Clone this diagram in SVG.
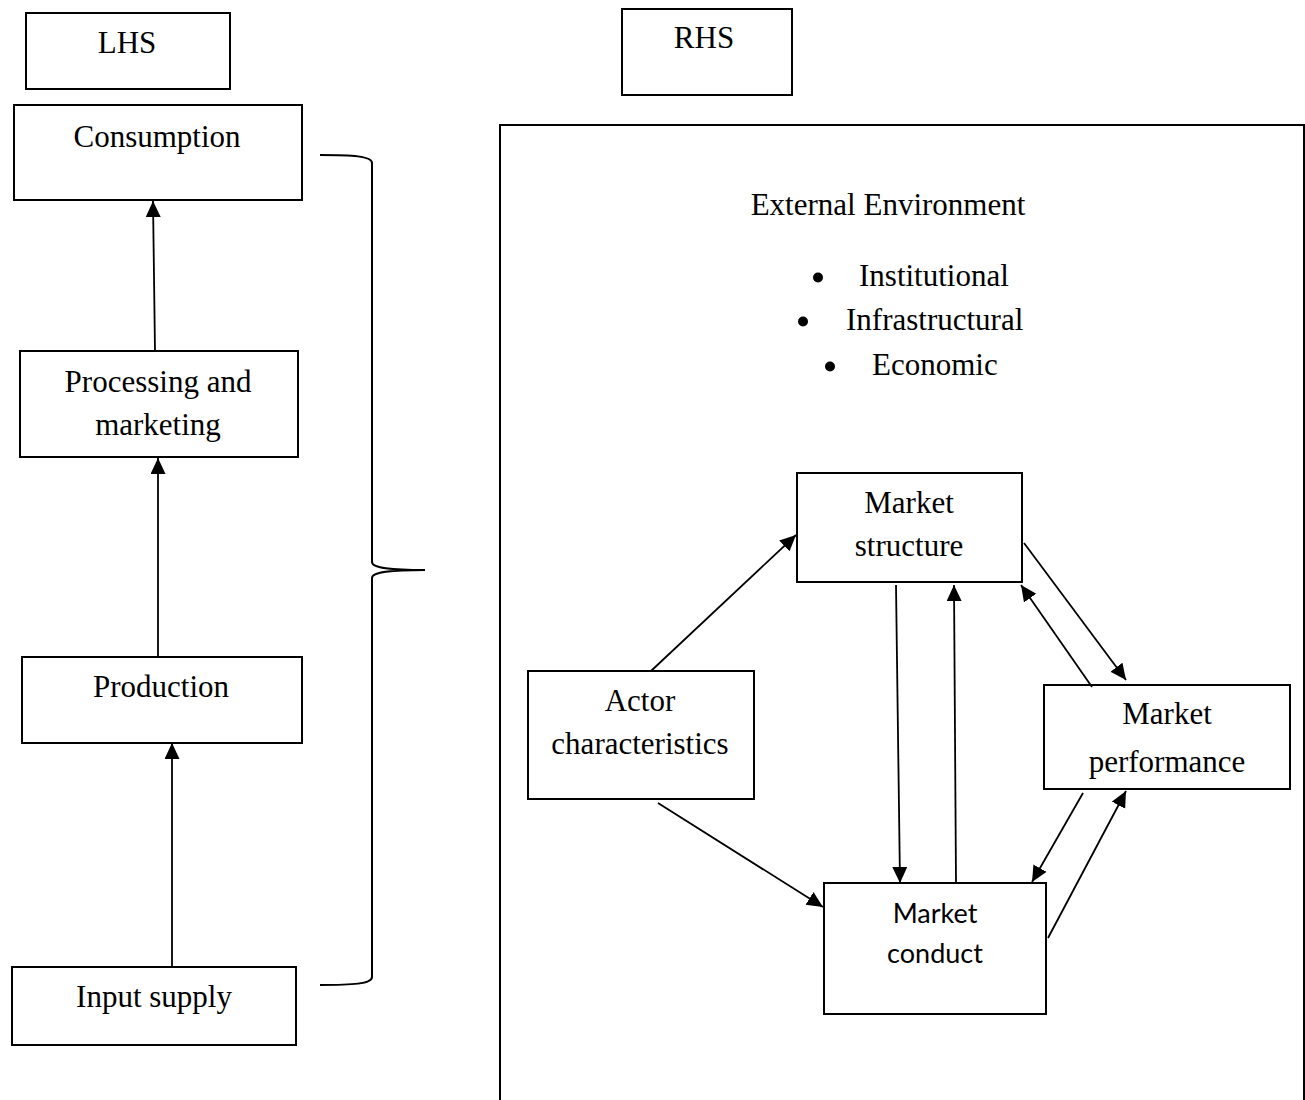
<svg xmlns="http://www.w3.org/2000/svg" width="1305" height="1100" viewBox="0 0 1305 1100">
  <defs>
    <marker id="arrow" markerUnits="userSpaceOnUse" markerWidth="18" markerHeight="16" refX="16" refY="7.5" orient="auto">
      <path d="M0,0 L16,7.5 L0,15 z" fill="#000"/>
    </marker>
    <style>
      .box { fill: #fff; stroke: #000; stroke-width: 2; }
      .frame { fill: none; stroke: #000; stroke-width: 2; }
      .t { font-family: "Liberation Serif", "Times New Roman", serif; font-size: 31px; fill: #000; text-anchor: middle; }
      .ts { font-family: Lato, "Open Sans", sans-serif; font-size: 27px; fill: #000; text-anchor: middle; }
      .tl { font-family: "Liberation Serif", "Times New Roman", serif; font-size: 31px; fill: #000; }
      .link { stroke: #000; stroke-width: 1.8; fill: none; marker-end: url(#arrow); }
      .brace { stroke: #000; stroke-width: 2; fill: none; }
    </style>
  </defs>
  <rect width="1305" height="1100" fill="#fff"/>

  <!-- Left-hand side: value chain stages -->
  <g id="lhs-label">
    <rect class="box" x="26" y="13" width="204" height="76"/>
    <text class="t" x="127" y="53">LHS</text>
  </g>
  <g id="consumption">
    <rect class="box" x="14" y="105" width="288" height="95"/>
    <text class="t" x="157" y="147">Consumption</text>
  </g>
  <g id="processing">
    <rect class="box" x="20" y="351" width="278" height="106"/>
    <text class="t" x="158" y="392">Processing and</text>
    <text class="t" x="158" y="435">marketing</text>
  </g>
  <g id="production">
    <rect class="box" x="22" y="657" width="280" height="86"/>
    <text class="t" x="161" y="697">Production</text>
  </g>
  <g id="input-supply">
    <rect class="box" x="12" y="967" width="284" height="78"/>
    <text class="t" x="154" y="1007">Input supply</text>
  </g>

  <!-- Curly brace grouping the chain -->
  <g id="brace">
    <path class="brace" d="M320,155 C352,155 372,156 372,163 L372,562 C372,568 390,570 425,570 C390,570 372,572 372,578 L372,977 C372,984 352,985 320,985"/>
  </g>

  <!-- Right-hand side: SCP framework -->
  <g id="rhs-label">
    <rect class="box" x="622" y="9" width="170" height="86"/>
    <text class="t" x="704" y="48">RHS</text>
  </g>
  <g id="external-environment">
    <rect class="frame" x="500" y="125" width="804" height="985"/>
    <text class="t" x="888" y="215">External Environment</text>
    <circle cx="818" cy="277.5" r="5"/>
    <text class="tl" x="859" y="286">Institutional</text>
    <circle cx="803" cy="321.5" r="5"/>
    <text class="tl" x="846" y="330">Infrastructural</text>
    <circle cx="830" cy="366.5" r="5"/>
    <text class="tl" x="872" y="375">Economic</text>
  </g>
  <g id="market-structure">
    <rect class="box" x="797" y="473" width="225" height="109"/>
    <text class="t" x="909" y="513">Market</text>
    <text class="t" x="909" y="556">structure</text>
  </g>
  <g id="actor-characteristics">
    <rect class="box" x="528" y="671" width="226" height="128"/>
    <text class="t" x="640" y="711">Actor</text>
    <text class="t" x="640" y="754">characteristics</text>
  </g>
  <g id="market-performance">
    <rect class="box" x="1044" y="685" width="246" height="104"/>
    <text class="t" x="1167" y="724">Market</text>
    <text class="t" x="1167" y="772">performance</text>
  </g>
  <g id="market-conduct">
    <rect class="box" x="824" y="883" width="222" height="131"/>
    <text class="ts" x="935" y="923">Market</text>
    <text class="ts" x="935" y="963">conduct</text>
  </g>

  <!-- Connectors -->
  <g id="connectors">
    <line class="link" x1="172" y1="967" x2="172" y2="743"/>
    <line class="link" x1="158" y1="657" x2="158" y2="458"/>
    <line class="link" x1="155" y1="351" x2="153" y2="201"/>
    <line class="link" x1="651" y1="671" x2="796" y2="535"/>
    <line class="link" x1="658" y1="803" x2="823" y2="907"/>
    <line class="link" x1="896" y1="585" x2="900" y2="883"/>
    <line class="link" x1="956" y1="883" x2="954" y2="585"/>
    <line class="link" x1="1024" y1="543" x2="1126" y2="680"/>
    <line class="link" x1="1092" y1="687" x2="1021" y2="585"/>
    <line class="link" x1="1083" y1="793" x2="1032" y2="882"/>
    <line class="link" x1="1048" y1="938" x2="1126" y2="791"/>
  </g>
</svg>
